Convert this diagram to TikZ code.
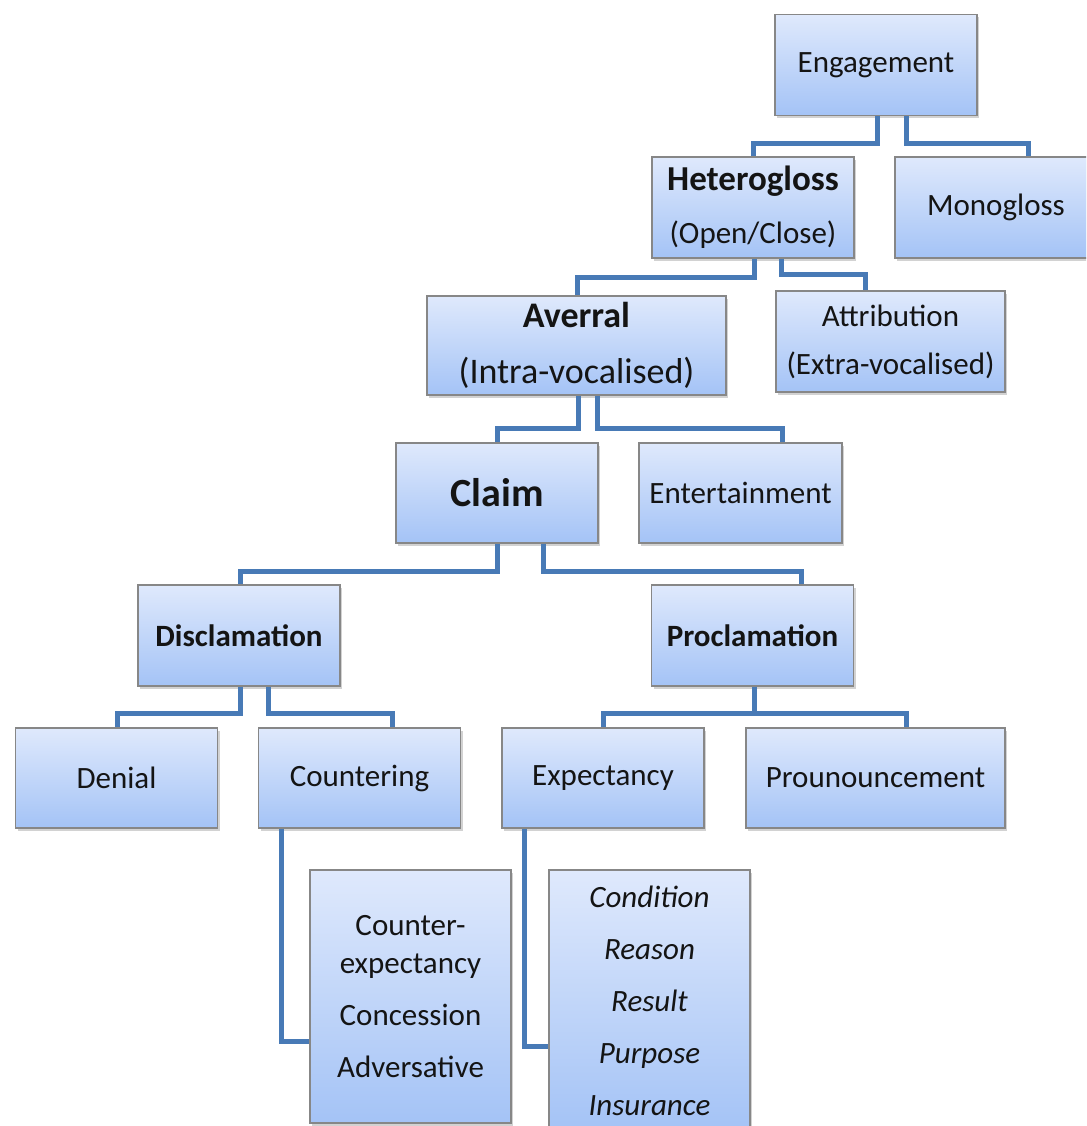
\documentclass[tikz,border=0pt]{standalone}
\usepackage{fontspec}
\setmainfont{Carlito}
\usetikzlibrary{shadows}
\definecolor{topcol}{RGB}{223,233,252}
\definecolor{botcol}{RGB}{164,195,246}
\definecolor{edgecol}{RGB}{135,135,135}
\definecolor{linkcol}{RGB}{72,122,182}
\definecolor{textcol}{RGB}{20,20,20}
\tikzset{
  box/.style={
    draw=edgecol, line width=1.2pt,
    top color=topcol, bottom color=botcol,
    minimum width=202pt, minimum height=101pt,
    inner sep=0pt, align=center, text=textcol,
    font=\fontsize{31}{38}\selectfont,
    drop shadow={shadow xshift=2pt,shadow yshift=-3pt,opacity=.35}
  },
  head/.style={font=\fontsize{31}{38}\selectfont\bfseries},
  list/.style={font=\fontsize{31}{52}\selectfont},
  link/.style={draw=linkcol, line width=5pt, line join=miter},
}

\begin{document}
\begin{tikzpicture}[x=1pt,y=-1pt]
  \useasboundingbox (0,0) rectangle (1086,1126);
  \clip (0,0) rectangle (1086,1126);
  \fill[white] (0,0) rectangle (1086,1126);

  \node[box] (eng) at (876,65) {Engagement};
  \node[box] (het) at (753,207.5) {\textbf{\fontsize{35}{38}\selectfont Heterogloss}\\[15pt](Open/Close)};
  \node[box] (mono) at (996,207.5) {Monogloss};

  \node[box,minimum width=299pt,minimum height=99pt,font=\fontsize{36}{38}\selectfont] (aver) at (576.5,345.5)
    {\textbf{Averral}\\[18pt](Intra-vocalised)};
  \node[box,minimum width=229pt] (attr) at (890.5,341.5) {Attribution\\[10pt](Extra-vocalised)};

  \node[box,minimum height=100pt,font=\fontsize{40}{44}\selectfont\bfseries] (claim) at (497,493) {Claim};
  \node[box,minimum width=203pt,minimum height=100pt] (ent) at (740.5,493) {Entertainment};

  \node[box,head] (discl) at (239,635.5) {Disclamation};
  \node[box,head] (procl) at (752.5,635.5) {Proclamation};

  \node[box,minimum height=100pt] (denial) at (116.5,778) {Denial};
  \node[box,minimum height=100pt] (counter) at (359.5,778) {Countering};
  \node[box,minimum height=100pt] (expect) at (603,778) {Expectancy};
  \node[box,minimum width=259pt,minimum height=100pt] (pron) at (875.5,778) {Prounouncement};

  \node[box,list,minimum width=201pt,minimum height=253pt] (cexp) at (410.5,996.5)
    {Counter-\\[-14pt]expectancy\\Concession\\Adversative};
  \node[box,minimum width=201pt,minimum height=261pt,font=\fontsize{31}{52}\selectfont\itshape] (cond) at (649.5,1000.5)
    {Condition\\Reason\\Result\\Purpose\\Insurance};

  % elbow links, parent -> child
  \foreach \src/\dst/\sx/\dd/\tx in {eng/het/1/27/0, eng/mono/30/27/32,
      het/aver/1/19/0.5, het/attr/28/16/-25.5,
      aver/claim/1.5/33/0, aver/ent/20.5/33/41.5,
      claim/discl/0/28/1, claim/procl/46/28/48.5,
      discl/denial/1/27/0.5, discl/counter/29/27/32.5,
      procl/expect/1.5/27/0, procl/pron/1.5/27/30.5}
    \draw[link] ([xshift=\sx pt]\src.south) -- ++(0,\dd) -| ([xshift=\tx pt]\dst.north);

  \draw[link] ([xshift=-78.5pt]counter.south) |- ([yshift=-44.5pt]cexp.west);
  \draw[link] ([xshift=-79pt]expect.south) |- ([yshift=-45.5pt]cond.west);
\end{tikzpicture}
\end{document}
